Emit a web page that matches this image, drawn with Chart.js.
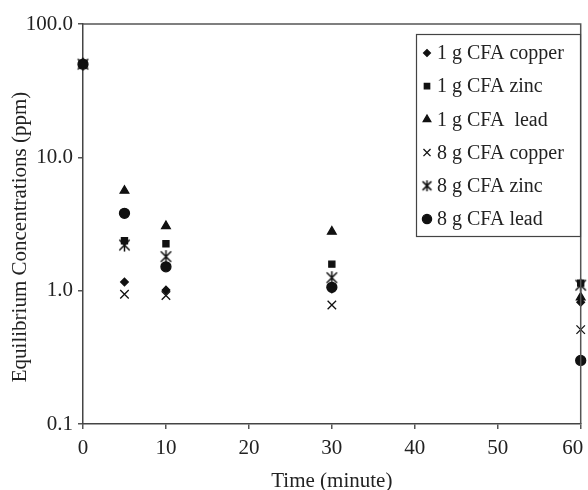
<!DOCTYPE html>
<html>
<head>
<meta charset="utf-8">
<script src="https://cdn.jsdelivr.net/npm/chart.js@4/dist/chart.umd.min.js"></script>
<style>
  html, body { margin: 0; padding: 0; background: #fff; }
  #wrap { width: 588px; height: 490px; }
</style>
</head>
<body>
<div id="wrap"><canvas id="chartCanvas" width="588" height="490"></canvas></div>
<script>
// sampling times (minutes)
const times = [0, 5, 10, 30, 60];

// equilibrium concentrations (ppm)
const cu1 = [50, 1.16, 1.01, 1.03, 0.82];
const zn1 = [50, 2.37, 2.25, 1.58, 1.14];
const pb1 = [50, 5.62, 3.05, 2.77, 0.89];
const cu8 = [50, 0.94, 0.92, 0.78, 0.51];
const zn8 = [50, 2.20, 1.80, 1.25, 1.10];
const pb8 = [50, 3.80, 1.51, 1.06, 0.30];

const seriesNames = ['1 g CFA copper', '1 g CFA zinc', '1 g CFA  lead',
                     '8 g CFA copper', '8 g CFA zinc', '8 g CFA lead'];
const yTicks = [0.1, 1, 10, 100];
const xTitle = 'Time (minute)';
const yTitle = 'Equilibrium Concentrations (ppm)';

const FONT = "'Liberation Serif', 'Times New Roman', serif";
const INK = '#111';
const TEXT = '#222';

// asterisk marker: an x with a vertical stroke through it
function asterisk(size) {
  const c = document.createElement('canvas');
  c.width = size; c.height = size;
  const g = c.getContext('2d');
  const m = size / 2, r = size / 2 - 1;
  g.strokeStyle = INK;
  g.lineWidth = 1.5;
  g.beginPath();
  g.moveTo(m, m - r); g.lineTo(m, m + r);
  g.moveTo(m - r * 0.8, m - r * 0.8); g.lineTo(m + r * 0.8, m + r * 0.8);
  g.moveTo(m + r * 0.8, m - r * 0.8); g.lineTo(m - r * 0.8, m + r * 0.8);
  g.stroke();
  return c;
}

const styles = [
  { pointStyle: 'rectRot', radius: 3.8, legend: 3.4 },
  { pointStyle: 'rect', radius: 4.3, legend: 3.8 },
  { pointStyle: 'triangle', radius: 5, legend: 4.4 },
  { pointStyle: 'crossRot', radius: 6, legend: 5 },
  { pointStyle: asterisk(15), radius: 6, legend: 6, legendImg: asterisk(13) },
  { pointStyle: 'circle', radius: 5, legend: 4.6 }
];

const values = [cu1, zn1, pb1, cu8, zn8, pb8];

const datasets = values.map((v, i) => ({
  label: seriesNames[i],
  data: times.map((t, j) => ({ x: t, y: v[j] })),
  pointStyle: styles[i].pointStyle,
  pointRadius: styles[i].radius,
  pointHoverRadius: styles[i].radius,
  pointBackgroundColor: INK,
  pointBorderColor: INK,
  pointBorderWidth: 1.3,
  showLine: false,
  clip: false
}));

// frame on top and right, the y title and the boxed legend
const framePlugin = {
  id: 'frameLegend',
  afterDraw(chart) {
    const ctx = chart.ctx;
    const a = chart.chartArea;
    ctx.save();
    ctx.strokeStyle = '#555';
    ctx.lineWidth = 1.5;
    ctx.beginPath();
    ctx.moveTo(a.left, a.top);
    ctx.lineTo(a.right, a.top);
    ctx.lineTo(a.right, a.bottom);
    ctx.stroke();

    // y axis title, sits a little below the middle of the axis
    ctx.save();
    ctx.translate(20, 237);
    ctx.rotate(-Math.PI / 2);
    ctx.font = '21px ' + FONT;
    ctx.fillStyle = TEXT;
    ctx.textAlign = 'center';
    ctx.textBaseline = 'middle';
    ctx.fillText(yTitle, 0, 0);
    ctx.restore();

    // legend box
    const bx = 416, by = 34, bw = 164, bh = 202;
    ctx.fillStyle = '#fff';
    ctx.fillRect(bx, by, bw, bh);
    ctx.lineWidth = 1.2;
    ctx.strokeStyle = '#444';
    ctx.strokeRect(bx + 0.5, by + 0.5, bw, bh);

    ctx.font = '20px ' + FONT;
    ctx.textBaseline = 'middle';
    seriesNames.forEach((name, i) => {
      const y = 53 + i * 33.2;
      const s = styles[i];
      ctx.fillStyle = INK;
      ctx.strokeStyle = INK;
      ctx.lineWidth = 1.3;
      Chart.helpers.drawPoint(ctx, { pointStyle: s.legendImg || s.pointStyle, radius: s.legend, rotation: 0, borderWidth: 1.3 }, 427, y);
      ctx.fillStyle = TEXT;
      ctx.fillText(name, 437, y + 1);
    });
    ctx.restore();
  }
};

new Chart(document.getElementById('chartCanvas'), {
  type: 'scatter',
  data: { datasets },
  options: {
    responsive: false,
    animation: false,
    devicePixelRatio: 1,
    layout: { padding: { left: 0, right: 6, top: 24, bottom: 0 } },
    plugins: { legend: { display: false }, tooltip: { enabled: false } },
    scales: {
      x: {
        type: 'linear',
        min: 0, max: 60,
        ticks: {
          stepSize: 10, color: TEXT, font: { family: FONT, size: 21 }, padding: 7, maxRotation: 0,
          // last label is pulled in so it stays on the canvas
          callback: v => v === 60 ? '60   ' : String(v)
        },
        grid: { drawOnChartArea: false, drawTicks: true, tickLength: 5, color: '#555', lineWidth: 1.5 },
        border: { display: true, color: '#444', width: 1.5 },
        title: { display: true, text: xTitle, color: TEXT, font: { family: FONT, size: 21 }, padding: { top: 4, bottom: -4 } },
        afterFit(scale) { scale.height = 66; scale.paddingRight = 0; }
      },
      y: {
        type: 'logarithmic',
        min: 0.1, max: 100,
        afterBuildTicks(scale) { scale.ticks = yTicks.map(v => ({ value: v })); },
        ticks: { color: TEXT, font: { family: FONT, size: 21 }, padding: 5, callback: v => Number(v).toFixed(1) },
        grid: { drawOnChartArea: false, drawTicks: true, tickLength: 5, color: '#555', lineWidth: 1.5 },
        border: { display: true, color: '#444', width: 1.5 },
        title: { display: false },
        afterFit(scale) { scale.width = 83; }
      }
    }
  },
  plugins: [framePlugin]
});
</script>
</body>
</html>
